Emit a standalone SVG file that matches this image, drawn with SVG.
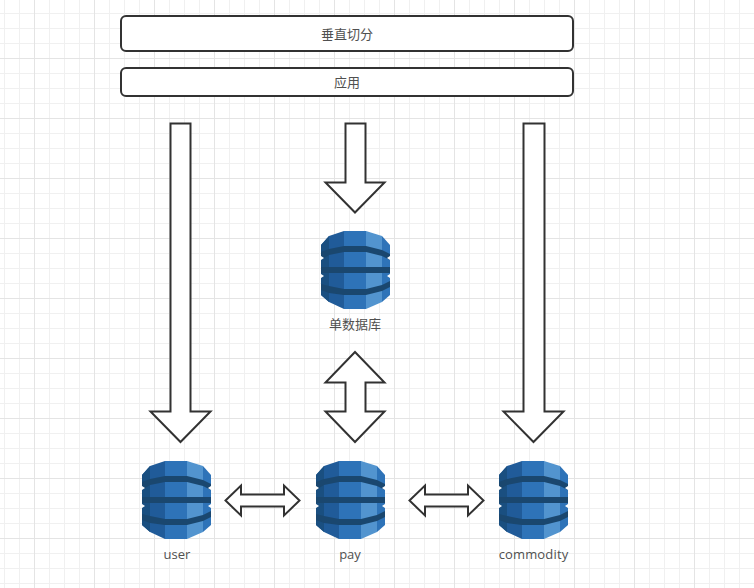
<svg xmlns="http://www.w3.org/2000/svg" width="754" height="588" viewBox="0 0 754 588">
<style>
.box{fill:#fff;stroke:#323232;stroke-width:2}
.arrow{fill:#fff;stroke:#323232;stroke-width:2;stroke-linejoin:miter}
text{font-family:"Open Sans","Noto Sans CJK SC",sans-serif;font-size:13px;fill:#505050;text-anchor:middle}
</style>
<defs>
<pattern id="fine" width="15" height="15" patternUnits="userSpaceOnUse" x="4" y="13"><path d="M0.5 0V15M0 0.5H15" fill="none" stroke="#f0f0f0" stroke-width="1"/></pattern>
<pattern id="major" width="60" height="60" patternUnits="userSpaceOnUse" x="34" y="58"><path d="M0.5 0V60M0 0.5H60" fill="none" stroke="#e4e4e4" stroke-width="1"/></pattern>
<g id="db">
<path d="M23 0V78L8 71L0 64V14L8 5Z" fill="#205b99"/>
<path d="M23 0H45V78H23Z" fill="#2e73b8"/>
<path d="M45 0L61 5V71L45 78Z" fill="#5294cf"/>
<path d="M61 5L69 14V64L61 71Z" fill="#2e73b8"/>
<path d="M0 14L8 5V71L0 64Z" fill="#1a4f80"/>
<path d="M0 21L8 18L23 15H45L61 19L69 23V29L61 25L45 21H23L8 24L0 29Z" fill="#1a476f"/>
<path d="M0 36H69V42H0Z" fill="#1a476f"/>
<path d="M0 53L8 55L23 58H45L61 54L69 50V56L61 60L45 64H23L8 62L0 59Z" fill="#1a476f"/>
<path d="M0 25L3 27L0 29ZM0 43L3 45L0 47ZM69 25L66 27L69 29ZM69 43L66 45L69 47Z" fill="#fff"/>
</g>
</defs>
<rect width="754" height="588" fill="#fff"/>
<rect width="754" height="588" fill="url(#fine)"/>
<rect width="754" height="588" fill="url(#major)"/>
<g id="connectors">
<path class="arrow" d="M170.500 123.500H190.500V411.500H210.500L180.500 442L150.500 411.500H170.500Z"/>
<path class="arrow" d="M345.500 123.500H365.500V182.500H384.500L355 212.500L325.500 182.500H345.500Z"/>
<path class="arrow" d="M523.500 123.500H544.500V411.500H563.500L533.500 442L503.500 411.500H523.500Z"/>
<path class="arrow" d="M355 352L384.500 382.500H365.500V411.500H384.500L355 442L325.500 411.500H345.500V382.500H325.500Z"/>
<path class="arrow" d="M225.500 500.500L241 485.500V494.500H284V485.500L299.500 500.500L284 515.500V506.500H241V515.500Z"/>
<path class="arrow" d="M409.500 500.500L425 485.500V494.500H468V485.500L483.500 500.500L468 515.500V506.500H425V515.500Z"/>
</g>
<g id="node-vertical"><rect class="box" x="121" y="16" width="452" height="35" rx="5"/><text x="347" y="38.500">垂直切分</text></g>
<g id="node-app"><rect class="box" x="121" y="68" width="452" height="28" rx="5"/><text x="347" y="86.500">应用</text></g>
<g id="node-single"><use href="#db" x="321" y="231"/><text x="355" y="329">单数据库</text></g>
<g id="node-user"><use href="#db" x="142" y="461"/><text x="177" y="559">user</text></g>
<g id="node-pay"><use href="#db" x="316" y="461"/><text x="350" y="559">pay</text></g>
<g id="node-commodity"><use href="#db" x="499" y="461"/><text x="533.500" y="559" letter-spacing="0.15">commodity</text></g>
</svg>
